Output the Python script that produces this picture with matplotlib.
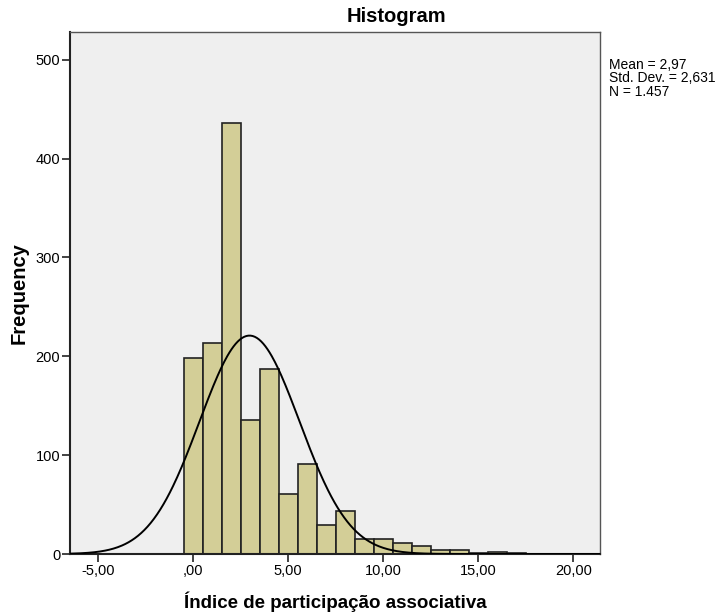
import numpy as np
import matplotlib.pyplot as plt

plt.rcParams['font.family'] = ['Liberation Sans', 'DejaVu Sans']

# Histogram data (bins of width 1, centred on integers)
bin_centers = np.arange(0, 18)
counts = [198, 213, 436, 136, 187, 61, 91, 29, 44,
          15, 15, 11, 8, 4, 4, 1, 2, 1]

# Summary statistics shown in the chart
mean = 2.97
std_dev = 2.631
n_total = 1457
stats_text = "Mean = 2,97\nStd. Dev. = 2,631\nN = 1.457"

x_ticks = [-5, 0, 5, 10, 15, 20]
x_tick_labels = ["-5,00", ",00", "5,00", "10,00", "15,00", "20,00"]
y_ticks = [0, 100, 200, 300, 400, 500]

fig = plt.figure(figsize=(7.2, 6.14), dpi=100)
ax = fig.add_axes([70 / 720, 1 - 554 / 614, 530 / 720, 522 / 614])
ax.set_facecolor('#EFEFEF')

ax.bar(bin_centers, counts, width=1.0, color='#D3CE97',
       edgecolor='#222222', linewidth=1.2, zorder=2)

# normal curve scaled to counts
xlim = (-6.47, 21.4)
xs = np.linspace(xlim[0], xlim[1], 500)
ys = n_total * 1.0 / (std_dev * np.sqrt(2 * np.pi)) * np.exp(-0.5 * ((xs - mean) / std_dev) ** 2)
ax.plot(xs, ys, color='black', linewidth=1.4, zorder=3)

ax.set_xlim(*xlim)
ax.set_ylim(0, 528)
ax.set_xticks(x_ticks)
ax.set_xticklabels(x_tick_labels)
ax.set_yticks(y_ticks)
ax.tick_params(direction='out', length=6, width=1.2, labelsize=10.5, colors='#222222',
               labelcolor='black', pad=1)

for side in ['top', 'right']:
    ax.spines[side].set_color('#555555')
    ax.spines[side].set_linewidth(1.0)
for side in ['left', 'bottom']:
    ax.spines[side].set_color('#222222')
    ax.spines[side].set_linewidth(1.5)

ax.set_xlabel("Índice de participação associativa", fontsize=13.5, fontweight='bold', labelpad=10)
ax.set_ylabel("Frequency", fontsize=14.5, fontweight='bold', labelpad=5)

fig.text(396 / 720, 1 - 17 / 614, "Histogram", fontsize=14.5, fontweight='bold',
         ha='center', va='center')
fig.text(609 / 720, 1 - 58 / 614, stats_text, fontsize=10, ha='left', va='top',
         linespacing=0.95)

fig.savefig('out.png', dpi=100)
